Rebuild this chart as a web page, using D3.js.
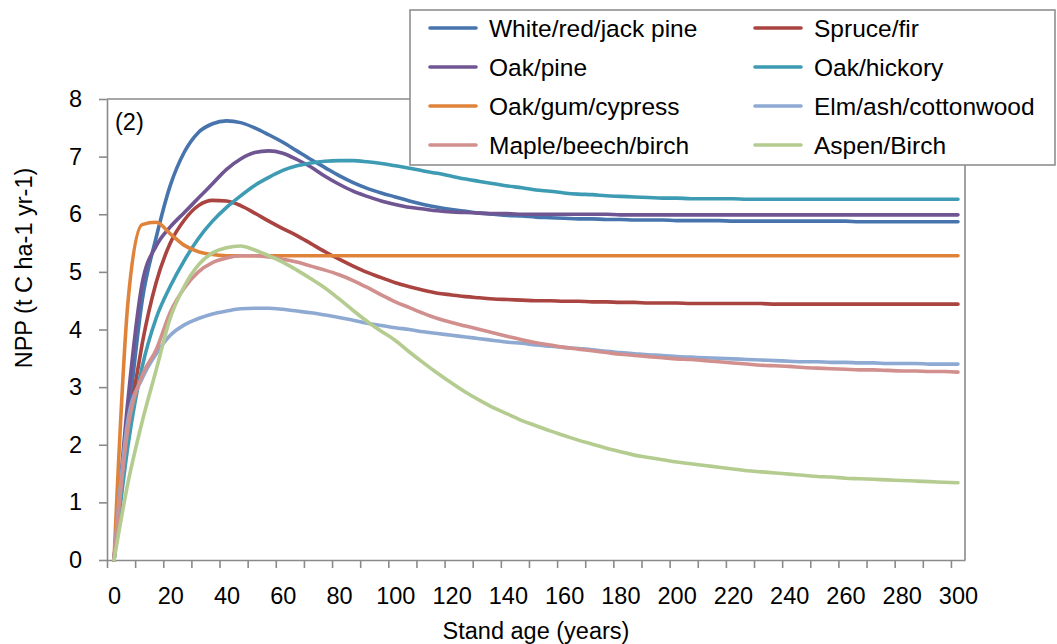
<!DOCTYPE html>
<html>
<head>
<meta charset="utf-8">
<script src="https://cdn.jsdelivr.net/npm/d3@7"></script>
<style>
  html, body { margin: 0; padding: 0; background: #fff; }
  svg { display: block; }
  text { font-family: "Liberation Sans", Arial, sans-serif; fill: #000; }
</style>
</head>
<body>
<svg id="chart" width="1057" height="644"></svg>
<script>
// ---- data ----
const years = [0,5,10,15,20,25,30,35,40,45,50,55,60,65,70,75,80,85,90,95,100,
  105,110,115,120,125,130,135,140,145,150,155,160,165,170,175,180,185,190,195,200,
  205,210,215,220,225,230,235,240,245,250,255,260,265,270,275,280,285,290,295,300];

const whiteRedJackPine = [0,2.4,4.5,5.6,6.5,7.08,7.42,7.57,7.62,7.59,7.5,7.38,7.25,7.1,6.95,6.81,6.67,6.55,6.45,6.37,6.3,
  6.23,6.17,6.12,6.08,6.05,6.02,6.0,5.98,5.97,5.95,5.94,5.93,5.92,5.92,5.91,5.91,5.9,5.9,5.9,5.89,
  5.89,5.89,5.89,5.88,5.88,5.88,5.88,5.88,5.88,5.88,5.88,5.88,5.87,5.87,5.87,5.87,5.87,5.87,5.87,5.87];
const spruceFir = [0,2.2,3.75,4.82,5.5,5.9,6.15,6.24,6.23,6.15,6.02,5.88,5.75,5.63,5.49,5.35,5.22,5.1,4.99,4.9,4.81,
  4.74,4.68,4.63,4.6,4.57,4.55,4.53,4.52,4.51,4.5,4.5,4.49,4.49,4.48,4.48,4.47,4.47,4.46,4.46,4.46,
  4.45,4.45,4.45,4.45,4.45,4.45,4.44,4.44,4.44,4.44,4.44,4.44,4.44,4.44,4.44,4.44,4.44,4.44,4.44,4.44];
const oakPine = [0,2.8,4.8,5.45,5.78,6.03,6.28,6.53,6.78,6.96,7.07,7.1,7.06,6.95,6.82,6.66,6.52,6.4,6.31,6.23,6.17,
  6.12,6.09,6.06,6.04,6.03,6.02,6.01,6.01,6.0,6.0,6.0,6.0,6.0,6.0,6.0,5.99,5.99,5.99,5.99,5.99,
  5.99,5.99,5.99,5.99,5.99,5.99,5.99,5.99,5.99,5.99,5.99,5.99,5.99,5.99,5.99,5.99,5.99,5.99,5.99,5.99];
const oakHickory = [0,2.0,3.35,4.2,4.75,5.2,5.58,5.88,6.12,6.32,6.5,6.64,6.76,6.84,6.89,6.92,6.93,6.93,6.91,6.88,6.84,
  6.8,6.75,6.71,6.66,6.61,6.57,6.53,6.49,6.46,6.42,6.4,6.37,6.35,6.34,6.32,6.31,6.3,6.29,6.28,6.28,
  6.27,6.27,6.27,6.27,6.26,6.26,6.26,6.26,6.26,6.26,6.26,6.26,6.26,6.26,6.26,6.26,6.26,6.26,6.26,6.26];
const oakGumCypress = [0,4.5,5.82,5.86,5.66,5.46,5.35,5.3,5.28,5.28,5.28,5.28,5.28,5.28,5.28,5.28,5.28,5.28,5.28,5.28,5.28,
  5.28,5.28,5.28,5.28,5.28,5.28,5.28,5.28,5.28,5.28,5.28,5.28,5.28,5.28,5.28,5.28,5.28,5.28,5.28,5.28,
  5.28,5.28,5.28,5.28,5.28,5.28,5.28,5.28,5.28,5.28,5.28,5.28,5.28,5.28,5.28,5.28,5.28,5.28,5.28,5.28];
const elmAshCottonwood = [0,2.45,3.15,3.58,3.9,4.08,4.19,4.27,4.32,4.36,4.37,4.37,4.35,4.32,4.29,4.25,4.21,4.16,4.11,4.07,4.03,
  4.0,3.96,3.93,3.9,3.87,3.84,3.81,3.78,3.76,3.73,3.71,3.69,3.67,3.65,3.62,3.6,3.58,3.56,3.55,3.53,
  3.52,3.51,3.5,3.49,3.48,3.47,3.46,3.45,3.44,3.44,3.43,3.43,3.42,3.42,3.41,3.41,3.41,3.4,3.4,3.4];
const mapleBeechBirch = [0,2.3,3.2,3.65,4.3,4.72,5.0,5.16,5.24,5.28,5.28,5.26,5.22,5.17,5.1,5.03,4.95,4.85,4.73,4.6,4.48,
  4.38,4.28,4.19,4.12,4.06,4.0,3.94,3.88,3.82,3.77,3.73,3.69,3.66,3.63,3.6,3.57,3.55,3.53,3.51,3.49,
  3.48,3.46,3.44,3.42,3.4,3.38,3.37,3.36,3.34,3.33,3.32,3.31,3.3,3.3,3.29,3.28,3.28,3.27,3.27,3.26];
const aspenBirch = [0,1.35,2.4,3.3,4.2,4.75,5.12,5.33,5.42,5.45,5.38,5.28,5.17,5.03,4.88,4.72,4.53,4.33,4.14,3.97,3.81,
  3.61,3.42,3.24,3.07,2.91,2.77,2.64,2.53,2.42,2.33,2.24,2.16,2.08,2.01,1.94,1.88,1.82,1.78,1.74,1.7,
  1.67,1.64,1.61,1.58,1.55,1.53,1.51,1.49,1.47,1.45,1.44,1.42,1.41,1.4,1.39,1.38,1.37,1.36,1.35,1.34];

const seriesNames = ["White/red/jack pine","Spruce/fir","Oak/pine","Oak/hickory",
  "Oak/gum/cypress","Elm/ash/cottonwood","Maple/beech/birch","Aspen/Birch"];
const seriesValues = [whiteRedJackPine, spruceFir, oakPine, oakHickory,
  oakGumCypress, elmAshCottonwood, mapleBeechBirch, aspenBirch];
const seriesColors = ["#4774AD","#A94441","#6F5592","#3E9BB4",
  "#E0833A","#8EA9D2","#D18F8D","#B4CC8F"];

const xLabelValues = [0,20,40,60,80,100,120,140,160,180,200,220,240,260,280,300];
const xTickBoundaries = [-2.5,7.5,17.5,27.5,37.5,47.5,57.5,67.5,77.5,87.5,97.5,107.5,117.5,127.5,137.5,147.5,
  157.5,167.5,177.5,187.5,197.5,207.5,217.5,227.5,237.5,247.5,257.5,267.5,277.5,287.5,297.5];
const yTickValues = [0,1,2,3,4,5,6,7,8];

const panelLabel = "(2)";
const xTitle = "Stand age (years)";
const yTitle = "NPP (t C ha-1 yr-1)";

// ---- layout ----
const plot = { left: 107, right: 965, top: 99, bottom: 560 };
const axisColor = "#8a8a8a";
const fontSize = 23.5;

const svg = d3.select("#chart");
const x = d3.scaleLinear().domain([-2.5, 302.5]).range([plot.left, plot.right]);
const y = d3.scaleLinear().domain([0, 8]).range([plot.bottom, plot.top]);

// plot border (top & right)
svg.append("path")
  .attr("d", `M${plot.left},${plot.top}H${plot.right}V${plot.bottom}`)
  .attr("fill", "none").attr("stroke", axisColor).attr("stroke-width", 1.6);

// y axis
const yAxis = svg.append("g").attr("transform", `translate(${plot.left},0)`)
  .call(d3.axisLeft(y).tickValues(yTickValues).tickSize(8).tickSizeOuter(0).tickPadding(17).tickFormat(d3.format("d")));
yAxis.select(".domain").attr("stroke", axisColor).attr("stroke-width", 1.6);
yAxis.selectAll(".tick line").attr("stroke", axisColor).attr("stroke-width", 1.6);
yAxis.selectAll(".tick text").attr("font-size", fontSize).attr("font-family", "Liberation Sans, Arial, sans-serif").attr("fill", "#000");

// x axis tick marks (category boundaries)
const xTicks = svg.append("g").attr("transform", `translate(0,${plot.bottom})`)
  .call(d3.axisBottom(x).tickValues(xTickBoundaries).tickSize(8).tickSizeOuter(0).tickFormat(""));
xTicks.select(".domain").attr("stroke", axisColor).attr("stroke-width", 1.6);
xTicks.selectAll(".tick line").attr("stroke", axisColor).attr("stroke-width", 1.6);

// x axis labels
const xLabels = svg.append("g").attr("transform", `translate(0,${plot.bottom})`)
  .call(d3.axisBottom(x).tickValues(xLabelValues).tickSize(0).tickPadding(27).tickFormat(d3.format("d")));
xLabels.select(".domain").remove();
xLabels.selectAll(".tick text").attr("font-size", fontSize).attr("font-family", "Liberation Sans, Arial, sans-serif").attr("fill", "#000");

// lines
const line = d3.line()
  .x((d, i) => x(years[i]))
  .y(d => y(d))
  .curve(d3.curveMonotoneX);

svg.append("g").selectAll("path")
  .data(seriesValues)
  .join("path")
  .attr("d", d => line(d))
  .attr("fill", "none")
  .attr("stroke", (d, i) => seriesColors[i])
  .attr("stroke-width", 3.6)
  .attr("stroke-linecap", "round")
  .attr("stroke-linejoin", "round");

// panel label
svg.append("text").attr("x", 115).attr("y", 130)
  .attr("font-size", fontSize).text(panelLabel);

// axis titles
svg.append("text").attr("x", 536).attr("y", 639)
  .attr("text-anchor", "middle").attr("font-size", fontSize).text(xTitle);
svg.append("text").attr("transform", `translate(31.5,268) rotate(-90)`)
  .attr("text-anchor", "middle").attr("font-size", fontSize).text(yTitle);

// legend
const legend = svg.append("g");
legend.append("rect").attr("x", 410).attr("y", 10).attr("width", 645).attr("height", 155)
  .attr("fill", "#fff").attr("stroke", "#8f8f8f").attr("stroke-width", 1.6);
const colX = [430, 755];
const rowY = [28, 67, 106, 145];
seriesNames.forEach((name, i) => {
  const cx = colX[i % 2];
  const cy = rowY[Math.floor(i / 2)];
  legend.append("line").attr("x1", cx).attr("x2", cx + 46).attr("y1", cy).attr("y2", cy)
    .attr("stroke", seriesColors[i]).attr("stroke-width", 3.6).attr("stroke-linecap", "round");
  legend.append("text").attr("x", cx + 59).attr("y", cy).attr("dy", "0.35em")
    .attr("font-size", 24.5).text(name);
});
</script>
</body>
</html>
